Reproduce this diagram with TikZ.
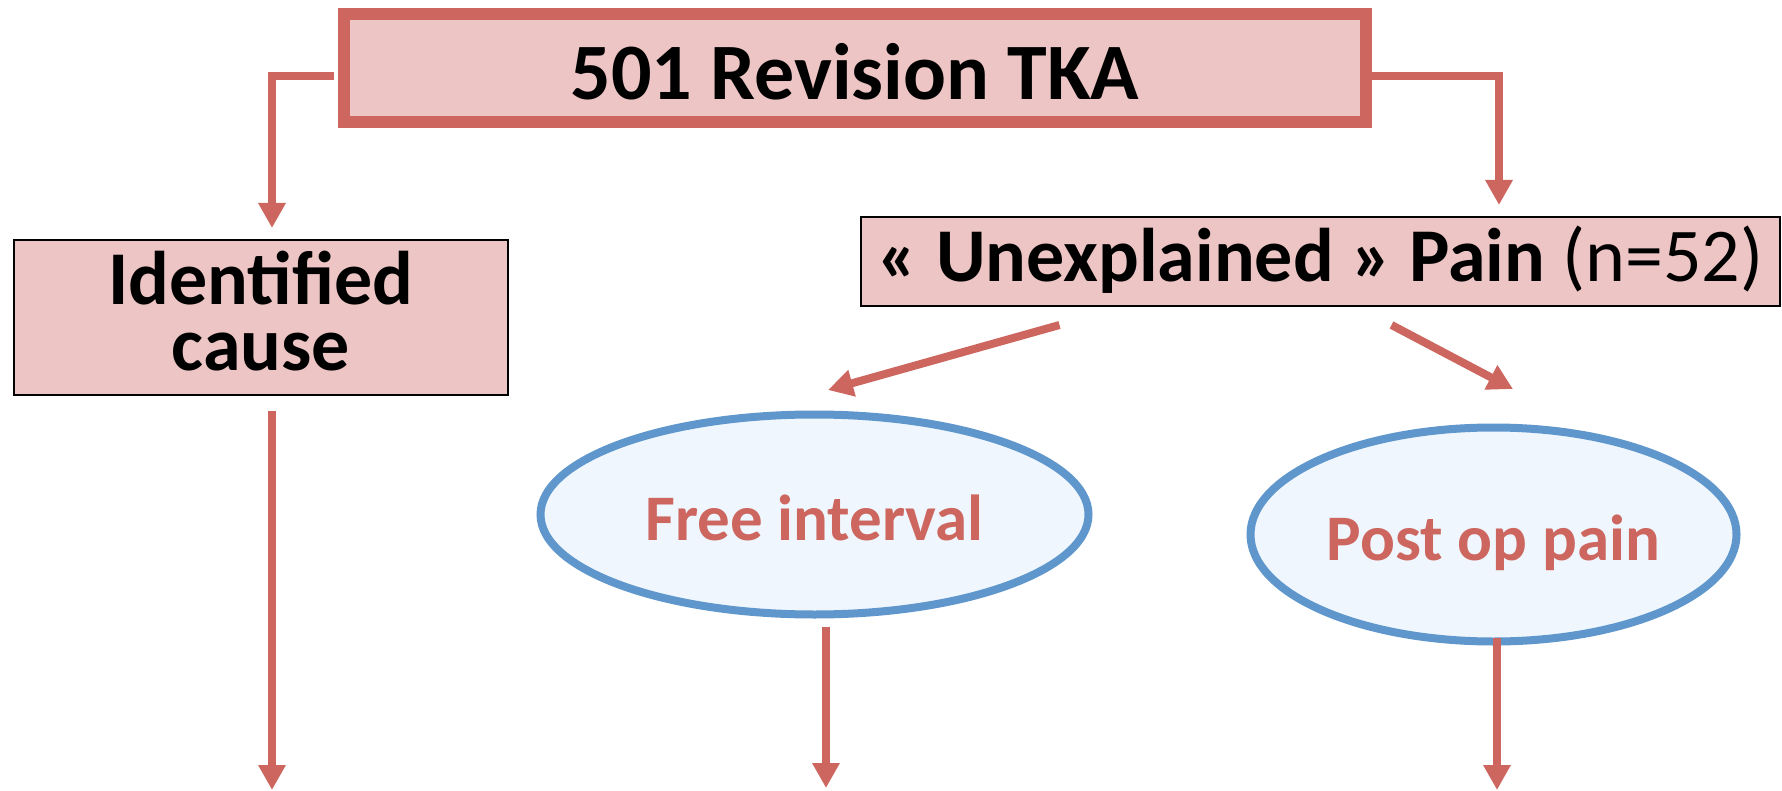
\documentclass[tikz,border=0pt]{standalone}
\usepackage{fontspec}
\setmainfont{Carlito}
\usepackage{tikz}
\usetikzlibrary{shapes.geometric, arrows.meta, positioning, calc}
\definecolor{flowred}{HTML}{CD665F}
\definecolor{boxpink}{HTML}{EDC5C4}
\definecolor{ovalblue}{HTML}{5F96CB}
\definecolor{ovalfill}{HTML}{EFF6FD}

\begin{document}
\begin{tikzpicture}[x=1pt, y=-1pt,
  flow/.style={draw=flowred, line width=8pt, -{Triangle[width=26pt, length=25pt]}},
  headbox/.style={draw=flowred, line width=12pt, fill=boxpink, inner sep=0pt},
  groupbox/.style={draw=black, line width=2pt, fill=boxpink, inner sep=0pt},
  oval/.style={ellipse, draw=ovalblue, line width=8pt, fill=ovalfill, inner sep=0pt,
    text=flowred, font=\fontsize{65}{78}\selectfont\bfseries, text height=51pt, text depth=0pt}]
  \useasboundingbox (0,0) rectangle (1782,791);

  % Total
  \node[headbox, minimum width=1022pt, minimum height=108pt,
    font=\fontsize{80}{96}\selectfont\bfseries, text height=64pt, text depth=0pt]
    (revision) at (855,68) {501 Revision TKA};

  % Two groups
  \node[groupbox, minimum width=494pt, minimum height=155pt, align=center,
    font=\fontsize{76}{66}\selectfont\bfseries]
    (cause) at (261,317.5) {Identified\\cause\rule[-14pt]{0pt}{0pt}};
  \node[groupbox, minimum width=919pt, minimum height=89pt,
    font=\fontsize{76}{91}\selectfont\bfseries, text height=41pt, text depth=0pt]
    (unexplained) at (1320.5,261.5) {« Unexplained » Pain {\mdseries(n=52)}};

  % Sub groups
  \node[oval, minimum width=548pt, minimum height=200pt] (freeint) at (814.5,514.5) {Free interval};
  \node[oval, minimum width=486pt, minimum height=214pt] (postop) at (1493.5,534.5) {Post op pain};

  % Arrow ends
  \coordinate (causetip) at (272,228);
  \coordinate (paintip) at (1499,205);
  \coordinate (freetip) at (828,390);
  \coordinate (posttip) at (1513,389);
  \coordinate (causeout) at (272,790);
  \coordinate (freeout) at (826,788);
  \coordinate (postout) at (1497,790);

  % Connectors
  \draw[flow, shorten <=4pt] ([yshift=-8pt]revision.west) -| (causetip);
  \draw[flow] ([yshift=-8pt]revision.east) -| (paintip);
  \draw[flow] ([xshift=-261pt, yshift=-18pt]unexplained.south) -- (freetip);
  \draw[flow] ([xshift=71pt, yshift=-18pt]unexplained.south) -- (posttip);
  \draw[flow] ([xshift=11pt, yshift=-15pt]cause.south) -- (causeout);
  \draw[flow] ([xshift=11.5pt, yshift=-8pt]freeint.south) -- (freeout);
  \draw[flow] ([xshift=3.5pt, yshift=8pt]postop.south) -- (postout);
\end{tikzpicture}
\end{document}
